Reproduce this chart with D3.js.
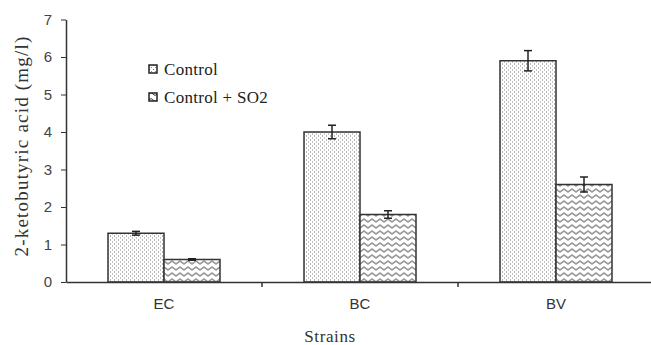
<!DOCTYPE html>
<html>
<head>
<meta charset="utf-8">
<script src="https://cdn.jsdelivr.net/npm/d3@7"></script>
<style>
  body { margin: 0; background: #fff; }
  svg { display: block; }
</style>
</head>
<body>
<svg id="chart" width="651" height="345"></svg>
<script>
// data
const strains = ['EC', 'BC', 'BV'];
const seriesNames = ['Control', 'Control + SO2'];
const controlValues = [1.3, 4.0, 5.9];
const controlErrors = [0.05, 0.18, 0.27];
const so2Values = [0.6, 1.8, 2.6];
const so2Errors = [0.02, 0.1, 0.2];
const yTicks = [0, 1, 2, 3, 4, 5, 6, 7];

const margin = { top: 19.5, right: 0, bottom: 63, left: 66 };
const width = 651 - margin.left - margin.right;
const height = 345 - margin.top - margin.bottom;

const svg = d3.select('#chart');
const ink = '#333';
const serif = '"Liberation Serif", "Times New Roman", serif';
const sans = '"Liberation Sans", Arial, sans-serif';

// fill patterns: dotted grain and wavy lines
const defs = svg.append('defs');
const dots = defs.append('pattern')
    .attr('id', 'dots')
    .attr('patternUnits', 'userSpaceOnUse')
    .attr('width', 4).attr('height', 4);
dots.append('rect').attr('width', 4).attr('height', 4).attr('fill', '#fff');
dots.append('rect').attr('x', 0).attr('y', 0).attr('width', 1).attr('height', 1).attr('fill', '#666');
dots.append('rect').attr('x', 2).attr('y', 2).attr('width', 1).attr('height', 1).attr('fill', '#888');

const waves = defs.append('pattern')
    .attr('id', 'waves')
    .attr('patternUnits', 'userSpaceOnUse')
    .attr('width', 8).attr('height', 6);
waves.append('rect').attr('width', 8).attr('height', 6).attr('fill', '#fff');
waves.append('path')
    .attr('d', 'M0,3 Q2,0 4,3 T8,3')
    .attr('fill', 'none')
    .attr('stroke', '#333')
    .attr('stroke-width', 1);

const g = svg.append('g')
    .attr('transform', `translate(${margin.left},${margin.top})`);

const x = d3.scaleBand()
    .domain(strains)
    .range([0, 588]);

const barWidth = 56;
const x1 = d3.scaleOrdinal()
    .domain(seriesNames)
    .range([-barWidth, 0]);

const y = d3.scaleLinear()
    .domain([0, 7])
    .range([height, 0]);

const series = [
    { name: seriesNames[0], values: controlValues, errors: controlErrors, fill: 'url(#dots)' },
    { name: seriesNames[1], values: so2Values, errors: so2Errors, fill: 'url(#waves)' }
];

// bars
series.forEach(s => {
    const rows = strains.map((k, i) => ({ k, v: s.values[i], e: s.errors[i] }));
    const cx = d => x(d.k) + x.bandwidth() / 2 + x1(s.name);

    g.append('g').selectAll('rect')
        .data(rows)
        .enter()
        .append('rect')
            .attr('x', cx)
            .attr('y', d => y(d.v))
            .attr('width', barWidth)
            .attr('height', d => y(0) - y(d.v))
            .attr('fill', s.fill)
            .attr('stroke', ink)
            .attr('stroke-width', 1.5);

    // error bars
    const eb = g.append('g').selectAll('g')
        .data(rows)
        .enter()
        .append('g')
            .attr('transform', d => `translate(${cx(d) + barWidth / 2},0)`)
            .attr('stroke', '#222')
            .attr('stroke-width', 1.5);
    eb.append('line')
        .attr('y1', d => y(d.v + d.e)).attr('y2', d => y(d.v - d.e));
    eb.append('line')
        .attr('x1', -4).attr('x2', 4)
        .attr('y1', d => y(d.v + d.e)).attr('y2', d => y(d.v + d.e));
    eb.append('line')
        .attr('x1', -4).attr('x2', 4)
        .attr('y1', d => y(d.v - d.e)).attr('y2', d => y(d.v - d.e));
});

// y axis
const yAxis = g.append('g')
    .call(d3.axisLeft(y).tickValues(yTicks).tickFormat(d3.format('d')).tickSize(5).tickSizeOuter(0));
yAxis.select('.domain').attr('stroke', ink).attr('stroke-width', 1.5);
yAxis.selectAll('.tick line').attr('stroke', ink);
yAxis.selectAll('.tick text')
    .attr('x', -14)
    .attr('fill', '#444')
    .style('font-family', sans)
    .style('font-size', '15px');

// x axis
const xAxis = g.append('g')
    .attr('transform', `translate(0,${height})`)
    .call(d3.axisBottom(x).tickSize(0).tickSizeOuter(0));
xAxis.select('.domain').attr('stroke', ink).attr('stroke-width', 1.5);
xAxis.selectAll('.tick text')
    .attr('y', 16)
    .attr('dy', '0.71em')
    .attr('fill', '#333')
    .style('font-family', sans)
    .style('font-size', '15px');

// category separator ticks
g.append('g').selectAll('line')
    .data(strains.slice(1))
    .enter()
    .append('line')
        .attr('x1', d => x(d)).attr('x2', d => x(d))
        .attr('y1', height).attr('y2', height + 5)
        .attr('stroke', ink)
        .attr('stroke-width', 1.5);

// axis titles
svg.append('text')
    .attr('transform', 'translate(21,146) rotate(-90)')
    .attr('text-anchor', 'middle')
    .attr('dy', '0.35em')
    .attr('fill', '#333')
    .style('font-family', serif)
    .style('font-size', '19px')
    .style('letter-spacing', '1.2px')
    .text('2-ketobutyric acid  (mg/l)');

svg.append('text')
    .attr('x', 330)
    .attr('y', 342)
    .attr('text-anchor', 'middle')
    .attr('fill', '#333')
    .style('font-family', serif)
    .style('font-size', '17px')
    .style('letter-spacing', '0.6px')
    .text('Strains');

// legend
const legend = svg.append('g')
    .selectAll('g')
    .data(series)
    .enter()
    .append('g')
        .attr('transform', (d, i) => `translate(149,${69 + i * 28})`);
legend.append('rect')
    .attr('x', 0).attr('y', -4)
    .attr('width', 8).attr('height', 8)
    .attr('fill', d => d.fill)
    .attr('stroke', '#222')
    .attr('stroke-width', 1.5);
legend.append('text')
    .attr('x', 15)
    .attr('dy', '0.35em')
    .attr('fill', '#222')
    .style('font-family', serif)
    .style('font-size', '17px')
    .style('letter-spacing', '0.3px')
    .text(d => d.name);
</script>
</body>
</html>
